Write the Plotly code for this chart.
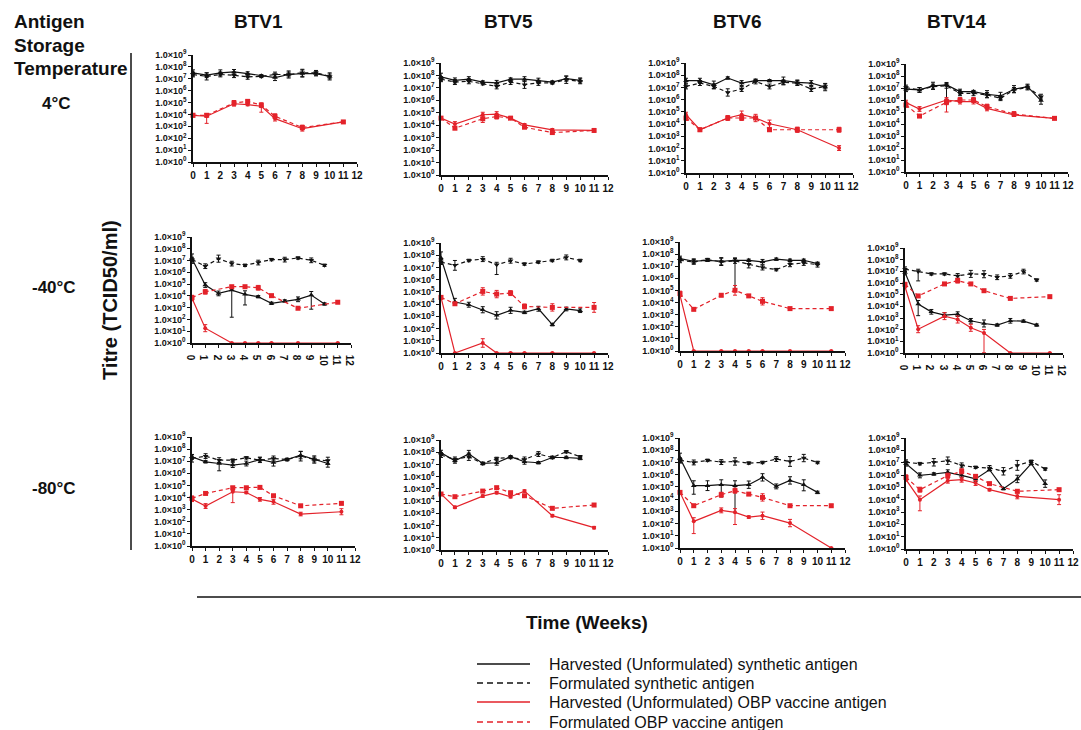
import plotly.graph_objects as go

# ---------------- data (log10 titre, TCID50/ml) ----------------
STRAINS = ["BTV1", "BTV5", "BTV6", "BTV14"]
TEMPS = ["4°C", "-40°C", "-80°C"]
X_TICKS = list(range(0, 13))
Y_EXP = list(range(0, 10))
X_SYN = [0, 1, 2, 3, 4, 5, 6, 7, 8, 9, 10]
X_OBP = [0, 1, 3, 4, 5, 6, 8, 11]
SERIES_NAMES = ["Harvested (Unformulated) synthetic antigen",
                "Formulated synthetic antigen",
                "Harvested (Unformulated) OBP vaccine antigen",
                "Formulated OBP vaccine antigen"]

# panel order: 4°C (BTV1, BTV5, BTV6, BTV14), -40°C (...), -80°C (...)
HARV_SYN = [
    [7.5, 7.3, 7.5, 7.58, 7.44, 7.25, 7.1, 7.36, 7.44, 7.44, 7.2],
    [7.88, 7.6, 7.7, 7.47, 7.4, 7.7, 7.7, 7.58, 7.47, 7.74, 7.6],
    [7.55, 7.55, 7.22, 7.77, 7.36, 7.55, 7.55, 7.55, 7.41, 7.36, 7.03],
    [6.9, 6.84, 7.18, 7.26, 6.7, 6.7, 6.48, 6.34, 6.9, 7.12, 5.95],
    [7.16, 4.92, 4.21, 4.49, 4.13, 3.93, 3.37, 3.57, 3.71, 4.07, 3.31],
    [7.77, 4.17, 3.95, 3.54, 3.08, 3.49, 3.32, 3.62, 2.32, 3.6, 3.46],
    [7.63, 7.41, 7.49, 7.41, 7.49, 7.49, 7.36, 7.58, 7.49, 7.49, 7.22],
    [6.9, 4.2, 3.53, 3.25, 3.33, 2.76, 2.53, 2.39, 2.76, 2.73, 2.39],
    [7.36, 6.95, 6.81, 6.68, 6.81, 7.14, 6.9, 7.14, 7.5, 7.14, 6.81],
    [7.96, 7.3, 7.85, 7.08, 7.14, 7.63, 7.22, 7.14, 7.57, 7.57, 7.49],
    [7.36, 5.1, 5.1, 5.18, 5.1, 5.18, 5.78, 5.04, 5.53, 5.18, 4.55],
    [6.92, 5.97, 6.08, 6.22, 5.97, 5.68, 6.43, 4.89, 5.68, 6.92, 5.3],
]
FORM_SYN = [
    [7.36, 7.2, 7.36, 7.3, 7.16, 7.2, 7.36, 7.36, 7.5, 7.5, 7.2],
    [7.7, 7.47, 7.53, 7.34, 7.12, 7.47, 7.26, 7.4, 7.4, 7.66, 7.53],
    [7.08, 7.36, 7.08, 6.59, 6.87, 7.49, 7.08, 7.41, 7.36, 6.87, 7.08],
    [7.04, 6.84, 7.12, 7.18, 6.56, 6.56, 6.42, 6.15, 6.84, 7.04, 6.28],
    [7.08, 6.52, 7.16, 6.74, 6.6, 6.83, 7.08, 7.08, 7.22, 7.02, 6.6],
    [7.44, 7.17, 7.57, 7.68, 7.22, 7.55, 7.28, 7.44, 7.57, 7.82, 7.57],
    [7.49, 7.36, 7.55, 7.36, 7.44, 7.16, 6.89, 6.72, 7.16, 7.27, 7.13],
    [7.18, 6.98, 6.78, 6.78, 6.61, 6.78, 6.75, 6.49, 6.61, 6.98, 6.26],
    [7.23, 7.42, 7.09, 7.09, 7.28, 7.09, 7.23, 7.14, 7.42, 7.14, 7.03],
    [7.77, 7.41, 7.63, 7.08, 7.49, 7.57, 7.41, 7.85, 7.57, 8.04, 7.63],
    [7.17, 7.0, 7.17, 7.03, 7.08, 6.95, 7.0, 7.28, 7.08, 7.36, 7.0],
    [7.03, 6.92, 7.03, 7.16, 6.78, 6.62, 6.57, 6.3, 6.78, 7.11, 6.49],
]
HARV_OBP = [
    [3.93, 3.85, 4.9, 4.83, 4.69, 3.65, 2.8, 3.37],
    [4.57, 4.09, 4.84, 4.89, 4.57, 4.03, 3.63, 3.58],
    [4.77, 3.54, 4.5, 4.77, 4.5, 4.03, 3.54, 2.04],
    [5.78, 5.25, 6.0, 5.87, 5.87, 5.3, 4.75, 4.47],
    [3.79, 1.26, 0, 0, 0, 0, 0, 0],
    [4.55, 0, 0.82, 0, 0, 0, 0, 0],
    [4.6, 0, 0, 0, 0, 0, 0, 0],
    [5.69, 2.04, 3.16, 2.87, 2.16, 1.72, 0, 0],
    [3.87, 3.3, 4.48, 4.42, 3.85, 3.65, 2.64, 2.83],
    [4.58, 3.49, 4.41, 4.69, 4.36, 4.82, 2.81, 1.83],
    [4.55, 2.18, 3.08, 2.92, 2.53, 2.64, 2.04, 0],
    [5.62, 4.0, 5.54, 5.62, 5.35, 4.81, 4.27, 4.0],
]
FORM_OBP = [
    [3.93, 3.93, 4.97, 5.1, 4.78, 3.85, 2.9, 3.37],
    [4.57, 3.76, 4.52, 4.7, 4.57, 3.84, 3.41, 3.58],
    [4.5, 3.54, 4.5, 4.5, 4.5, 3.54, 3.54, 3.54],
    [5.59, 4.66, 5.81, 6.0, 6.0, 5.45, 4.83, 4.47],
    [3.85, 4.35, 4.78, 4.78, 4.69, 4.02, 2.95, 3.46],
    [4.55, 4.03, 5.04, 4.82, 4.9, 3.81, 3.73, 3.73],
    [4.74, 3.44, 4.6, 5.01, 4.55, 4.1, 3.5, 3.5],
    [5.89, 4.89, 5.92, 6.2, 5.92, 5.34, 4.68, 4.83],
    [3.93, 4.34, 4.81, 4.81, 4.84, 4.15, 3.32, 3.52],
    [4.58, 4.36, 4.82, 5.1, 4.69, 4.44, 3.41, 3.68],
    [4.55, 3.46, 4.36, 4.69, 4.41, 4.14, 3.46, 3.46],
    [5.81, 4.81, 5.95, 6.3, 5.89, 5.3, 4.68, 4.81],
]

# error bars: log10 half-widths; tuples are (up, down)
ERR_HARV_SYN = [
    [0.25, 0.2, 0.25, 0.2, 0.15, 0.1, 0.25, 0.3, 0.3, 0.2, 0.3],
    [0.3, 0.2, 0.2, 0.1, 0.2, 0.1, 0.2, 0.2, 0.1, 0.2, 0.2],
    [0.2, 0.2, 0.3, 0.1, 0.2, 0.1, 0.1, 0.3, 0.2, 0.2, 0.3],
    [0.2, 0.2, 0.3, (0.2, 1.2), 0.2, 0.1, 0.3, 0.3, 0.3, 0.2, 0.3],
    [0.4, 0.2, 0.2, (0.1, 2.3), (0.3, 0.9), 0.1, 0.1, 0.1, 0.2, (0.3, 1.2), 0.1],
    [0.5, (0.3, 0.1), 0.2, 0.25, 0.3, 0.25, 0.1, 0.2, 0.1, 0.15, 0.15],
    [0.2, 0.2, 0.1, 0.3, (0.2, 2.5), 0.1, 0.2, 0.1, 0.1, 0.1, 0.1],
    [0.2, (0.3, 1.0), 0.2, 0.2, 0.2, 0.2, 0.3, 0.1, 0.2, 0.1, 0.1],
    [0.2, 0.1, (0.1, 0.6), 0.2, 0.2, 0.2, 0.3, 0.1, 0.3, 0.2, 0.3],
    [0.2, 0.2, 0.3, 0.1, 0.2, 0.1, 0.2, 0.1, 0.1, 0.1, 0.1],
    [0.4, (0.4, 0.7), 0.4, (0.4, 1.0), (0.4, 2.2), 0.3, 0.3, 0.2, 0.3, (0.4, 0.5), 0.1],
    [0.2, 0.2, 0.1, 0.2, 0.2, 0.2, 0.1, 0.1, 0.3, 0.1, 0.3],
]
ERR_FORM_SYN = [
    [0.2, 0.3, 0.2, 0.2, 0.2, 0.1, 0.2, 0.2, 0.3, 0.2, 0.2],
    [0.2, 0.2, 0.2, 0.1, 0.2, 0.2, 0.3, 0.2, 0.1, 0.3, 0.2],
    [0.2, 0.2, 0.2, 0.3, 0.2, 0.2, 0.2, 0.2, 0.2, 0.2, 0.2],
    [0.2, 0.2, 0.2, 0.2, 0.2, 0.2, 0.2, 0.2, 0.2, 0.2, 0.2],
    [0.2, 0.2, 0.3, 0.2, 0.1, 0.2, 0.1, 0.2, 0.1, 0.2, 0.1],
    [0.2, 0.4, 0.1, 0.2, (0.2, 0.8), 0.2, 0.1, 0.1, 0.1, 0.2, 0.1],
    [0.2, 0.2, 0.1, 0.3, 0.2, 0.3, 0.2, 0.1, 0.2, 0.2, 0.2],
    [0.2, (0.2, 0.8), 0.1, 0.1, 0.2, 0.3, 0.3, 0.2, 0.2, 0.2, 0.1],
    [0.3, 0.2, 0.2, 0.1, 0.1, 0.2, 0.2, 0.1, 0.4, 0.3, 0.3],
    [0.2, 0.2, 0.3, 0.1, 0.1, 0.1, 0.2, 0.2, 0.1, 0.1, 0.1],
    [0.2, 0.2, 0.1, 0.2, 0.3, 0.1, 0.1, 0.2, 0.4, 0.3, 0.1],
    [0.2, 0.1, 0.3, 0.3, 0.2, 0.1, 0.2, 0.3, 0.4, 0.1, 0.1],
]
ERR_HARV_OBP = [
    [0.15, (0.2, 0.6), 0.2, 0.1, (0.1, 0.5), 0.2, 0.2, 0.1],
    [0.1, 0.2, 0.2, 0.2, 0.1, 0.1, 0.1, 0.1],
    [0.2, 0.15, 0.2, 0.3, 0.3, 0.3, 0.2, 0.2],
    [0.2, 0.2, (0.2, 1.0), 0.2, 0.2, 0.2, 0.1, 0.0],
    [0.2, 0.3, 0, 0, 0, 0, 0, 0],
    [0.1, 0, 0.35, 0, 0, 0, 0, 0],
    [0.1, 0, 0, 0, 0, 0, 0, 0],
    [0.1, 0.3, 0.3, 0.3, 0.3, (0.3, 1.7), 0, 0],
    [0.2, 0.2, (0.1, 0.9), 0.1, 0.15, 0.2, 0.15, 0.25],
    [0.1, 0.1, 0.1, 0.1, 0.1, 0.1, 0.1, 0.1],
    [0.1, (0.3, 1.0), 0.2, (0.3, 1.0), 0.1, 0.3, 0.3, 0],
    [0.1, (0.3, 0.9), 0.2, 0.2, 0.2, 0.1, 0.2, 0.4],
]
ERR_FORM_OBP = [
    [0.1, 0.1, 0.2, 0.1, 0.2, 0.2, 0.2, 0.1],
    [0.1, 0.1, 0.3, 0.2, 0.1, 0.1, 0.1, 0.1],
    [0.2, 0.1, 0.1, 0.2, 0.1, 0.1, 0.2, 0.2],
    [0.2, 0.1, 0.2, 0.2, 0.2, 0.2, 0.2, 0.1],
    [0.2, 0.2, 0.1, 0.1, 0.2, 0.1, 0.1, 0.1],
    [0.1, 0.1, 0.3, 0.3, 0.2, 0.2, 0.3, 0.4],
    [0.2, 0.1, 0.1, 0.4, 0.1, 0.3, 0.1, 0.1],
    [0.1, 0.1, 0.1, 0.2, 0.1, 0.1, 0.1, 0.1],
    [0.2, 0.1, 0.1, 0.1, 0.1, 0.1, 0.1, 0.1],
    [0.1, 0.1, 0.1, 0.1, 0.1, 0.1, 0.1, 0.1],
    [0.1, 0.1, 0.2, 0.2, 0.1, 0.3, 0.1, 0.1],
    [0.2, 0.2, 0.2, 0.2, 0.1, 0.1, 0.1, 0.1],
]

# ---------------- layout geometry (pixels) ----------------
W, H = 1081, 730
# plot-area boxes (left, right, top, bottom) for each panel
BOXES = [
    (193, 357, 55, 162), (441, 608, 63, 175), (686, 853, 63, 173), (906, 1068, 64, 172),
    (192, 351, 237, 343), (441, 608, 243, 353), (680, 845, 242, 351), (905, 1063, 248, 353),
    (192, 355, 437, 546), (441, 608, 440, 550), (680, 845, 438, 548), (906, 1073, 438, 549),
]
LEGEND_ROWS_Y = [664, 683, 702, 722]

BLACK = "#111111"
RED = "#e3222a"
FONT = "Liberation Sans, Arial, sans-serif"

STYLES = [
    dict(color=BLACK, dash="solid", symbol="triangle-up", size=5),
    dict(color=BLACK, dash="4px,3px", symbol="triangle-down", size=5),
    dict(color=RED, dash="solid", symbol="circle", size=4),
    dict(color=RED, dash="4px,3px", symbol="square", size=5),
]


def err_parts(vals, errs):
    up, dn = [], []
    for v, e in zip(vals, errs):
        if isinstance(e, tuple):
            u, d = e
        else:
            u = d = e
        y = 10 ** v
        up.append(y * (10 ** u - 1))
        dn.append(y * (1 - 10 ** (-d)))
    return up, dn


fig = go.Figure()
layout = dict()

for p in range(12):
    l, r, t, b = BOXES[p]
    xa = "xaxis" if p == 0 else f"xaxis{p + 1}"
    ya = "yaxis" if p == 0 else f"yaxis{p + 1}"
    xref = "x" if p == 0 else f"x{p + 1}"
    yref = "y" if p == 0 else f"y{p + 1}"
    layout[xa] = dict(
        domain=[l / W, r / W], anchor=yref, range=[0, 12], automargin=False,
        tickvals=X_TICKS, ticktext=[str(v) for v in X_TICKS],
        showline=True, linecolor=BLACK, linewidth=1.5, ticks="outside",
        ticklen=3, tickwidth=1, tickcolor=BLACK, showgrid=False, zeroline=False,
        tickfont=dict(family=FONT, size=10, color=BLACK, weight="bold"),
    )
    layout[ya] = dict(
        domain=[1 - b / H, 1 - t / H], anchor=xref, type="log", range=[0, 9],
        automargin=False,
        tickvals=[10 ** k for k in Y_EXP],
        ticktext=[f"1.0×10<sup>{k}</sup>" for k in Y_EXP],
        showline=True, linecolor=BLACK, linewidth=1.5, ticks="outside",
        ticklen=3, tickwidth=1, tickcolor=BLACK, showgrid=False, zeroline=False,
        tickfont=dict(family=FONT, size=9, color=BLACK, weight="bold"),
    )
    sets = [
        (X_SYN, HARV_SYN[p], ERR_HARV_SYN[p]),
        (X_SYN, FORM_SYN[p], ERR_FORM_SYN[p]),
        (X_OBP, HARV_OBP[p], ERR_HARV_OBP[p]),
        (X_OBP, FORM_OBP[p], ERR_FORM_OBP[p]),
    ]
    for s, (xs, vals, errs) in enumerate(sets):
        st = STYLES[s]
        up, dn = err_parts(vals, errs)
        fig.add_trace(go.Scatter(
            x=xs, y=[10 ** v for v in vals], xaxis=xref, yaxis=yref,
            name=SERIES_NAMES[s], mode="lines+markers", showlegend=False,
            cliponaxis=False,
            line=dict(color=st["color"], width=1.2, dash=st["dash"]),
            marker=dict(color=st["color"], symbol=st["symbol"], size=st["size"]),
            error_y=dict(type="data", array=up, arrayminus=dn, symmetric=False,
                         color=st["color"], thickness=1, width=2),
        ))


def note(text, x, y, xanchor="center", size=16, angle=0):
    return dict(x=x / W, y=1 - y / H, xref="paper", yref="paper",
                xanchor=xanchor, yanchor="middle", text=text, showarrow=False,
                textangle=angle, font=dict(family=FONT, size=size, color=BLACK))


annotations = []
col_centers = [258, 508, 737, 957]
for name, cx in zip(STRAINS, col_centers):
    annotations.append(note(f"<b>{name}</b>", cx, 22, size=19))
for txt, yy in [("Antigen", 22), ("Storage", 46), ("Temperature", 68)]:
    annotations.append(note(f"<b>{txt}</b>", 12, yy, xanchor="left", size=19))
for txt, yy, xx in zip(TEMPS, [103, 287, 488], [40, 30, 30]):
    annotations.append(note(f"<b>{txt}</b>", xx, yy, xanchor="left", size=17))
annotations.append(note("<b>Titre (TCID50/ml)</b>", 110, 300, angle=-90, size=20))
annotations.append(note("<b>Time (Weeks)</b>", 587, 622, size=19))

shapes = [
    dict(type="line", xref="paper", yref="paper", x0=131 / W, x1=131 / W,
         y0=1 - 53 / H, y1=1 - 550 / H, line=dict(color=BLACK, width=1.5)),
    dict(type="line", xref="paper", yref="paper", x0=197 / W, x1=1.0,
         y0=1 - 597 / H, y1=1 - 597 / H, line=dict(color=BLACK, width=1.5)),
]

# legend key drawn below the panels
for s, (name, ly) in enumerate(zip(SERIES_NAMES, LEGEND_ROWS_Y)):
    st = STYLES[s]
    shapes.append(dict(type="line", xref="paper", yref="paper",
                       x0=477 / W, x1=530 / W, y0=1 - ly / H, y1=1 - ly / H,
                       line=dict(color=st["color"], width=1.6,
                                 dash="solid" if st["dash"] == "solid" else "6px,4px")))
    annotations.append(note(name, 547, ly, xanchor="left", size=16))

fig.update_layout(
    template="none",
    width=W, height=H, margin=dict(l=0, r=0, t=0, b=0, pad=0, autoexpand=False),
    paper_bgcolor="white", plot_bgcolor="white", showlegend=False,
    annotations=annotations, shapes=shapes,
    **layout,
)

fig.write_html("out.html", config={"displayModeBar": False},
               post_script="document.body.style.margin='0';document.body.style.overflow='hidden';")
